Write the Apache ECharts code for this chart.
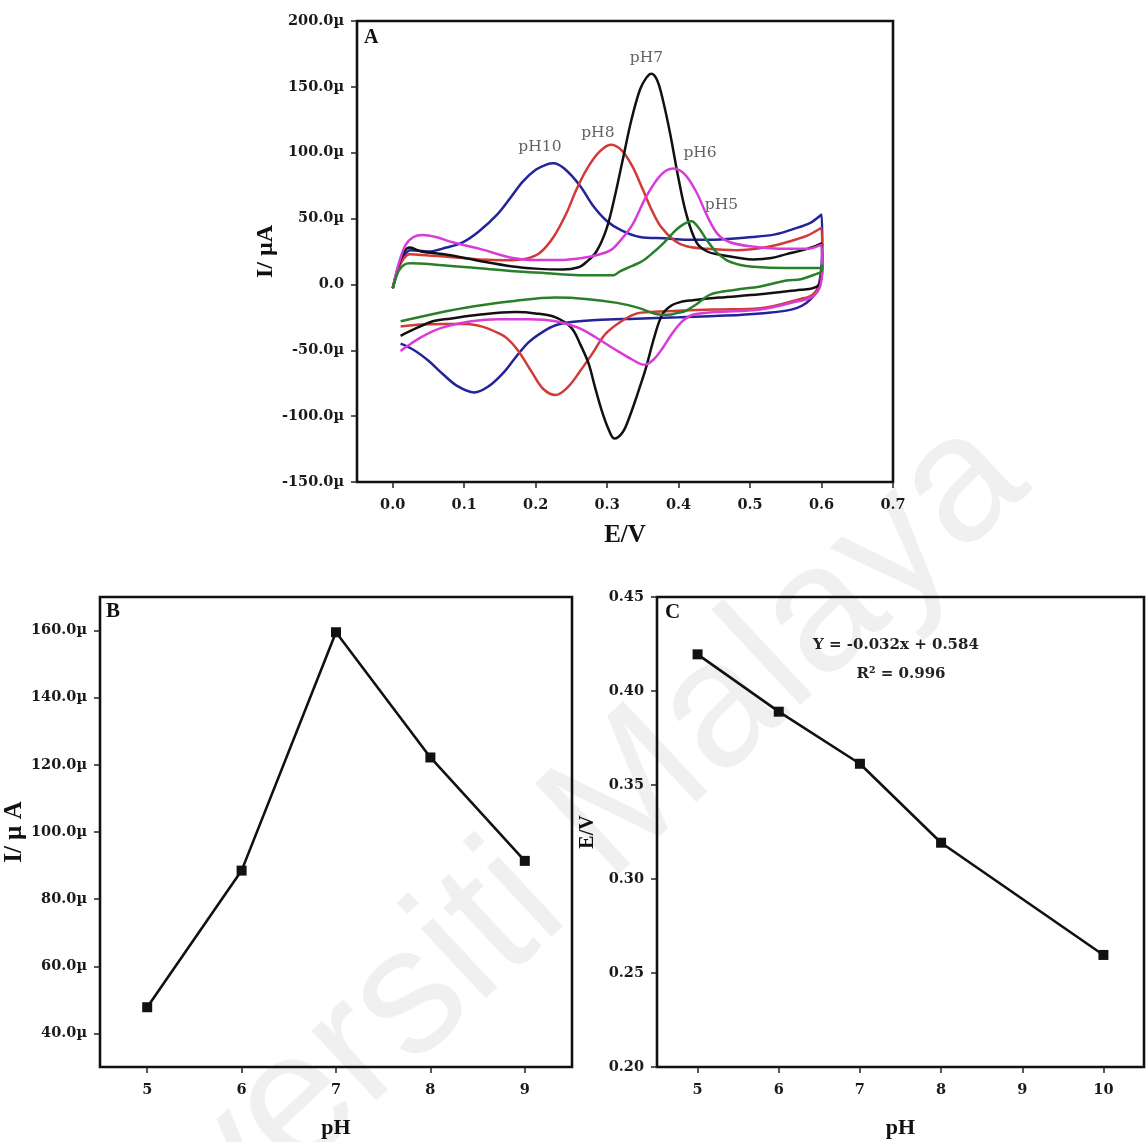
<!DOCTYPE html>
<html>
<head>
<meta charset="utf-8">
<script src="https://cdn.jsdelivr.net/npm/echarts@6/dist/echarts.min.js"></script>
<style>
html, body { margin: 0; padding: 0; background: #fff; }
#chart { width: 1148px; height: 1142px; }
</style>
</head>
<body>
<div id="chart"></div>
<script>
// ---- panel A : cyclic voltammograms, [E (V), I (uA)]
var cv_pH10 = [[0,-3],[0.008,12],[0.016,22],[0.025,26],[0.05,25],[0.075,28],[0.098,32],[0.12,40],[0.146,53],[0.165,66],[0.182,78],[0.2,87],[0.215,91],[0.225,92],[0.24,88],[0.262,75],[0.28,60],[0.3,48],[0.32,41],[0.346,36],[0.38,35],[0.412,34],[0.45,34],[0.504,36],[0.535,38],[0.56,42],[0.585,47],[0.6,53],
  [0.601,30],[0.598,5],[0.59,-8],
  [0.565,-18],[0.514,-22],[0.45,-24],[0.4,-25],[0.34,-26],[0.285,-27],[0.25,-28.5],[0.228,-31],[0.21,-36],[0.19,-44],[0.171,-56],[0.155,-67],[0.135,-77],[0.114,-82],[0.09,-77],[0.07,-68],[0.05,-58],[0.03,-50],[0.011,-45]];
var cv_pH8 = [[0,-3],[0.008,12],[0.016,20],[0.024,23],[0.05,22],[0.076,21],[0.12,19],[0.168,18.4],[0.19,20],[0.206,24],[0.225,36],[0.243,54],[0.257,72],[0.271,87],[0.288,100],[0.305,106],[0.32,102],[0.335,90],[0.35,72],[0.362,57],[0.375,44],[0.395,33],[0.411,29],[0.44,27],[0.481,26],[0.52,28],[0.551,32],[0.58,37],[0.6,43],
  [0.601,20],[0.597,0],[0.587,-8],
  [0.571,-11],[0.514,-18],[0.45,-19],[0.399,-20],[0.36,-21],[0.342,-22],[0.32,-28],[0.297,-38],[0.28,-52],[0.262,-66],[0.245,-78],[0.228,-84],[0.21,-79],[0.194,-66],[0.175,-50],[0.16,-41],[0.148,-37],[0.125,-32],[0.103,-30],[0.07,-30],[0.04,-30.5],[0.011,-32]];
var cv_pH7 = [[0,-3],[0.008,14],[0.016,25],[0.024,28],[0.04,25],[0.076,22.6],[0.12,18],[0.168,13.6],[0.2,12],[0.238,11.3],[0.26,13],[0.271,17],[0.285,25],[0.299,42],[0.31,65],[0.322,95],[0.334,125],[0.346,148],[0.355,157],[0.362,160],[0.37,155],[0.378,140],[0.388,115],[0.4,80],[0.411,53],[0.425,32],[0.44,25],[0.458,22.6],[0.504,19],[0.53,20],[0.551,23],[0.58,27],[0.6,31],
  [0.601,12],[0.597,0],[0.587,-3],
  [0.571,-4],[0.514,-7.5],[0.457,-10],[0.42,-12],[0.405,-13],[0.39,-16],[0.377,-23],[0.366,-40],[0.354,-64],[0.342,-84],[0.331,-101],[0.322,-112],[0.31,-117],[0.302,-110],[0.292,-95],[0.283,-78],[0.274,-60],[0.262,-45],[0.25,-33],[0.228,-25],[0.2,-22],[0.171,-21],[0.12,-23],[0.08,-26],[0.056,-28],[0.03,-34],[0.011,-39]];
var cv_pH6 = [[0,-3],[0.008,15],[0.018,30],[0.029,36],[0.042,37.5],[0.06,36],[0.084,32],[0.122,27],[0.168,20],[0.2,18.5],[0.238,18.6],[0.265,20],[0.286,22.4],[0.305,26],[0.318,33],[0.335,45],[0.355,67],[0.375,83],[0.392,88],[0.408,84],[0.425,70],[0.44,52],[0.455,38],[0.472,32],[0.5,29],[0.551,27],[0.58,27],[0.6,30],
  [0.601,12],[0.597,-3],[0.585,-10],
  [0.565,-13],[0.514,-19],[0.45,-21],[0.42,-23],[0.405,-28],[0.39,-38],[0.378,-48],[0.365,-57],[0.352,-61],[0.335,-57],[0.31,-49],[0.285,-40.5],[0.26,-33],[0.228,-28],[0.19,-26.5],[0.148,-26.4],[0.11,-28],[0.068,-33],[0.04,-40],[0.02,-47],[0.011,-50.5]];
var cv_pH5 = [[0,-3],[0.008,10],[0.016,15],[0.024,16],[0.06,15],[0.122,12.3],[0.17,10],[0.215,8.5],[0.26,7],[0.309,7],[0.318,10],[0.335,14],[0.35,18],[0.364,24],[0.38,32],[0.392,39],[0.405,45],[0.418,48],[0.428,43],[0.439,34],[0.452,25],[0.467,18.5],[0.485,15],[0.504,13.4],[0.55,12.5],[0.598,12.5],
  [0.601,15],[0.6,10],[0.593,8],
  [0.571,4],[0.551,3],[0.514,-1.5],[0.48,-4],[0.445,-7.5],[0.425,-15],[0.41,-20],[0.399,-21.6],[0.385,-23],[0.37,-22.6],[0.345,-18],[0.314,-14],[0.27,-11],[0.228,-10],[0.17,-12.5],[0.114,-16.6],[0.06,-22],[0.011,-28]];

var cvNames = ['pH10', 'pH8', 'pH7', 'pH6', 'pH5'];
var cvColors = ['#23239a', '#d23a3a', '#111111', '#d83cd8', '#2a7f2a'];
// where each curve's name is written, [E, I]
var cvLabelAt = [[0.206,104.6],[0.287,115],[0.355,171.7],[0.43,99.8],[0.46,60.3]];

var xTicksA = [0, 0.1, 0.2, 0.3, 0.4, 0.5, 0.6, 0.7];

// ---- panel B : peak current vs pH
var phB = [5, 6, 7, 8, 9];
var peakCurrent = [47.8, 88.5, 159.5, 122.2, 91.4];
var yTicksB = [40, 60, 80, 100, 120, 140, 160];

// ---- panel C : peak potential vs pH
var phC = [5, 6, 7, 8, 10];
var peakPotential = [0.4195, 0.389, 0.3613, 0.3193, 0.2596];
var xTicksC = [5, 6, 7, 8, 9, 10];
var fitText = ['Y = -0.032x + 0.584', 'R\u00b2 = 0.996'];

var SERIF = '"Liberation Serif", "Times New Roman", serif';
var WIDE = '"DejaVu Serif", serif';
var tickFont = { fontFamily: WIDE, fontWeight: 'bold', fontSize: 14.5, color: '#1a1a1a' };
function nameFont(size) {
    return { fontFamily: SERIF, fontWeight: 'bold', fontSize: size, color: '#111' };
}

function xAxisOf(grid, min, max, ticks, fmt, name, gap, size) {
    return {
        type: 'value', gridIndex: grid, min: min, max: max,
        name: name, nameLocation: 'middle', nameGap: gap, nameTextStyle: nameFont(size),
        axisLine: { show: false, onZero: false },
        axisTick: { show: true, inside: false, length: 6, customValues: ticks, lineStyle: { color: '#222', width: 1.5 } },
        axisLabel: Object.assign({ customValues: ticks, margin: 16, formatter: fmt }, tickFont),
        splitLine: { show: false }
    };
}
function yAxisOf(grid, min, max, opts, fmt, name, gap, size) {
    var ax = {
        type: 'value', gridIndex: grid, min: min, max: max,
        name: name, nameLocation: 'middle', nameGap: gap, nameTextStyle: nameFont(size),
        axisLine: { show: false, onZero: false },
        axisTick: { show: true, inside: false, length: 6, lineStyle: { color: '#222', width: 1.5 } },
        axisLabel: Object.assign({ margin: 13, formatter: fmt }, tickFont),
        splitLine: { show: false }
    };
    if (opts.interval) ax.interval = opts.interval;
    if (opts.ticks) { ax.axisTick.customValues = opts.ticks; ax.axisLabel.customValues = opts.ticks; }
    return ax;
}

var series = [];
[cv_pH10, cv_pH8, cv_pH7, cv_pH6, cv_pH5].forEach(function (d, i) {
    series.push({
        type: 'line', name: cvNames[i], xAxisIndex: 0, yAxisIndex: 0,
        data: d, showSymbol: false, smooth: 0.35, silent: true,
        lineStyle: { color: cvColors[i], width: 2.5 }, z: 3 + i
    });
});
series.push({
    type: 'scatter', xAxisIndex: 0, yAxisIndex: 0, symbolSize: 0, silent: true,
    data: cvNames.map(function (n, i) { return { name: n, value: cvLabelAt[i] }; }),
    label: { show: true, position: 'inside', formatter: '{b}', fontFamily: WIDE, fontSize: 15.5, color: '#3a3a3a' }
});
series.push({
    type: 'line', xAxisIndex: 1, yAxisIndex: 1,
    data: phB.map(function (p, i) { return [p, peakCurrent[i]]; }),
    symbol: 'rect', symbolSize: 10, showAllSymbol: true,
    lineStyle: { color: '#111', width: 2.6 }, itemStyle: { color: '#111' }
});
series.push({
    type: 'line', xAxisIndex: 2, yAxisIndex: 2,
    data: phC.map(function (p, i) { return [p, peakPotential[i]]; }),
    symbol: 'rect', symbolSize: 10, showAllSymbol: true,
    lineStyle: { color: '#111', width: 2.6 }, itemStyle: { color: '#111' }
});

var box = { show: true, borderColor: '#111', borderWidth: 2.6, backgroundColor: 'transparent' };

var option = {
    backgroundColor: '#fff',
    animation: false,
    grid: [
        Object.assign({ left: 357, top: 21, width: 536, height: 461 }, box),
        Object.assign({ left: 100, top: 597, width: 472, height: 470 }, box),
        Object.assign({ left: 657, top: 597, width: 487, height: 470 }, box)
    ],
    xAxis: [
        xAxisOf(0, -0.05, 0.7, xTicksA, function (v) { return v.toFixed(1); }, 'E/V', 41, 25),
        xAxisOf(1, 4.5, 9.5, phB, function (v) { return String(v); }, 'pH', 50, 22),
        xAxisOf(2, 4.5, 10.5, xTicksC, function (v) { return String(v); }, 'pH', 50, 22)
    ],
    yAxis: [
        yAxisOf(0, -150, 200, { interval: 50 }, function (v) { return v === 0 ? '0.0' : v.toFixed(1) + '\u00b5'; }, 'I/ \u00b5A', 77, 24),
        yAxisOf(1, 30, 170, { ticks: yTicksB }, function (v) { return v.toFixed(1) + '\u00b5'; }, 'I/ \u00b5 A', 69, 25),
        yAxisOf(2, 0.2, 0.45, { interval: 0.05 }, function (v) { return v.toFixed(2); }, 'E/V', 59, 20)
    ],
    graphic: [
        {
            type: 'text', x: 498, y: 919, rotation: 43 * Math.PI / 180, z: -10, silent: true,
            style: { text: 'Universiti Malaya', fontFamily: '"Liberation Sans", Arial, sans-serif', fontSize: 180, fill: '#f0f0f0', align: 'center', verticalAlign: 'middle' }
        },
        { type: 'text', x: 364, y: 28, style: { text: 'A', fontFamily: SERIF, fontWeight: 'bold', fontSize: 20, fill: '#111' } },
        { type: 'text', x: 106, y: 601, style: { text: 'B', fontFamily: SERIF, fontWeight: 'bold', fontSize: 21, fill: '#111' } },
        { type: 'text', x: 665, y: 602, style: { text: 'C', fontFamily: SERIF, fontWeight: 'bold', fontSize: 21, fill: '#111' } },
        { type: 'text', x: 896, y: 645, style: { text: fitText[0], fontFamily: WIDE, fontWeight: 'bold', fontSize: 15, fill: '#222', align: 'center', verticalAlign: 'middle' } },
        { type: 'text', x: 901, y: 674, style: { text: fitText[1], fontFamily: WIDE, fontWeight: 'bold', fontSize: 15, fill: '#222', align: 'center', verticalAlign: 'middle' } }
    ],
    series: series
};

var chart = echarts.init(document.getElementById('chart'), null, { renderer: 'canvas' });
chart.setOption(option);
</script>
</body>
</html>
